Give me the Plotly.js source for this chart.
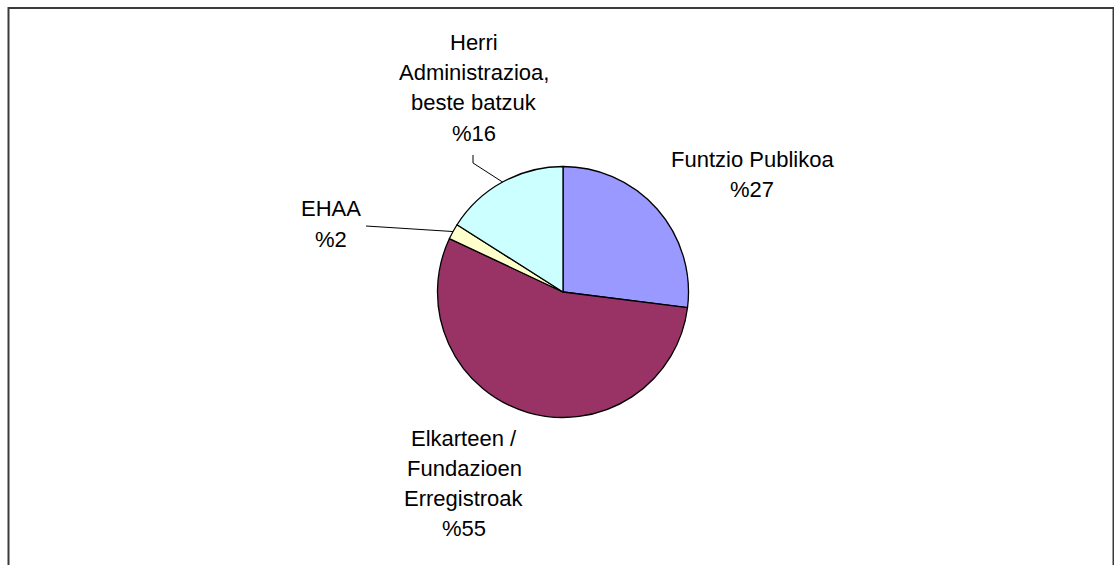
<!DOCTYPE html>
<html><head><meta charset="utf-8">
<script src="https://cdn.plot.ly/plotly-3.0.1.min.js"></script>
<style>html,body{margin:0;padding:0;background:#fff}#chart{width:1114px;height:565px}</style>
</head><body><div id="chart"></div>
<script>
// ---- data ----
const categories = ["Funtzio Publikoa", "Elkarteen / Fundazioen Erregistroak", "EHAA", "Herri Administrazioa, beste batzuk"];
const labelLines = [["Funtzio Publikoa"], ["Elkarteen /", "Fundazioen", "Erregistroak"], ["EHAA"], ["Herri", "Administrazioa,", "beste batzuk"]];
const values = [27, 55, 2, 16];
const colors = ["#9999FF", "#993366", "#FFFFCC", "#CCFFFF"];

// ---- layout (pixels) ----
const W = 1114, H = 565;
const CX = 563, CY = 292, R = 125.5;
const LINE_GAP = 30.2;
// centre x and first-line centre y of each label block
const labelPos = [[752, 159], [464, 438], [331, 209], [474, 42.5]];
const leaderStart = [null, null, [[366, 226]], [[473, 155], [473, 163]]];

const px = x => x / W, py = y => 1 - y / H;
const total = values.reduce((a, b) => a + b, 0);

const annotations = [];
const shapes = [];
let cum = 0;
values.forEach((v, i) => {
  const mid = (cum + v / 2) / total * 2 * Math.PI;
  cum += v;
  const ex = CX + R * Math.sin(mid), ey = CY - R * Math.cos(mid);
  const lines = labelLines[i].concat('%' + v);
  lines.forEach((t, k) => {
    annotations.push({
      xref: 'paper', yref: 'paper', x: px(labelPos[i][0]), y: py(labelPos[i][1] + k * LINE_GAP),
      xanchor: 'center', yanchor: 'middle', showarrow: false, align: 'center',
      text: t,
      font: {family: 'Liberation Sans, Arial, sans-serif', size: 22, color: '#000'}
    });
  });
  if (leaderStart[i]) {
    const pts = leaderStart[i].concat([[ex, ey]]);
    const path = pts.map((p, k) => (k ? 'L' : 'M') + px(p[0]) + ',' + py(p[1])).join(' ');
    shapes.push({type: 'path', xref: 'paper', yref: 'paper', path: path, line: {color: '#000', width: 1}});
  }
});
// outer frame
shapes.push({type: 'rect', xref: 'paper', yref: 'paper', x0: px(8.5), x1: px(1113.5), y0: py(600), y1: py(8),
  line: {color: '#3a3a3a', width: 2}});

const trace = {
  type: 'pie', labels: categories, values: values, sort: false, direction: 'clockwise', rotation: 0,
  marker: {colors: colors, line: {color: '#000', width: 1.3}},
  textinfo: 'none', hoverinfo: 'none', showlegend: false,
  domain: {x: [px(CX - R), px(CX + R)], y: [py(CY + R), py(CY - R)]}
};

Plotly.newPlot('chart', [trace], {
  width: W, height: H, margin: {l: 0, r: 0, t: 0, b: 0},
  paper_bgcolor: '#fff', showlegend: false,
  annotations: annotations, shapes: shapes
}, {staticPlot: true});
</script></body></html>
